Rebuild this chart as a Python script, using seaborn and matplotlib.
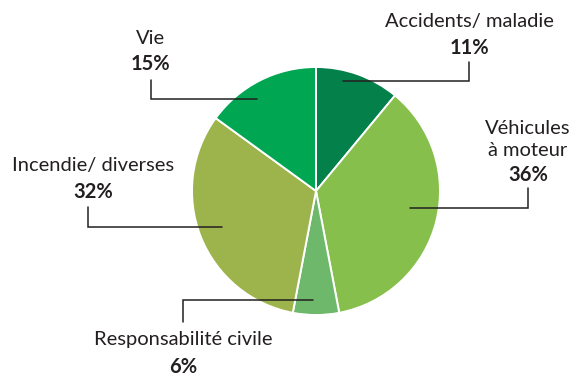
import matplotlib
matplotlib.use("Agg")
import matplotlib.pyplot as plt
import seaborn as sns

# ---- data ----
categories = ["Accidents/ maladie", "Véhicules\nà moteur", "Responsabilité civile",
              "Incendie/ diverses", "Vie"]
shares = [11, 36, 6, 32, 15]
pct_labels = ["11%", "36%", "6%", "32%", "15%"]
colors = ["#04804a", "#86bf4b", "#6db86a", "#9db34b", "#00a651"]

sns.set_theme(style="white")
plt.rcParams["font.family"] = ["Lato", "DejaVu Sans"]

W, H = 580, 378
fig = plt.figure(figsize=(W / 100, H / 100), dpi=100)
ax = fig.add_axes([0, 0, 1, 1])


def Y(y):
    return H - y


cx, cy, r = 316, 191, 124
ax.pie(shares, colors=colors, startangle=90, counterclock=False,
       center=(cx, Y(cy)), radius=r, frame=True,
       wedgeprops=dict(edgecolor="white", linewidth=1.4))
ax.set_xlim(0, W)
ax.set_ylim(0, H)
ax.set_aspect("equal")
ax.axis("off")

# layout: (anchor in wedge), elbow x, line top/bottom y, text x, name y, pct y
layout = [
    dict(ax=343, ay=81, ex=469, ey=62, tx=469, ny=[21], py=48),
    dict(ax=410, ay=208, ex=528, ey=188, tx=528, ny=[128, 151], py=175),
    dict(ax=313, ay=300, ex=183, ey=322, tx=183, ny=[339], py=367),
    dict(ax=222, ay=227, ex=88, ey=207, tx=93, ny=[166], py=192),
    dict(ax=257, ay=99, ex=151, ey=80, tx=150, ny=[38], py=64),
]

txtc = "#231f20"
for cat, pct, L in zip(categories, pct_labels, layout):
    ax.plot([L["ax"], L["ex"], L["ex"]], [Y(L["ay"]), Y(L["ay"]), Y(L["ey"])],
            color=txtc, lw=1.1, solid_joinstyle="miter")
    for line, yy in zip(cat.split("\n"), L["ny"]):
        ax.text(L["tx"], Y(yy), line, ha="center", va="center",
                fontsize=14.5, color=txtc)
    ax.text(L["tx"], Y(L["py"]), pct, ha="center", va="center",
            fontsize=14.5, fontweight="bold", color=txtc)

fig.savefig("out.png", dpi=100)
